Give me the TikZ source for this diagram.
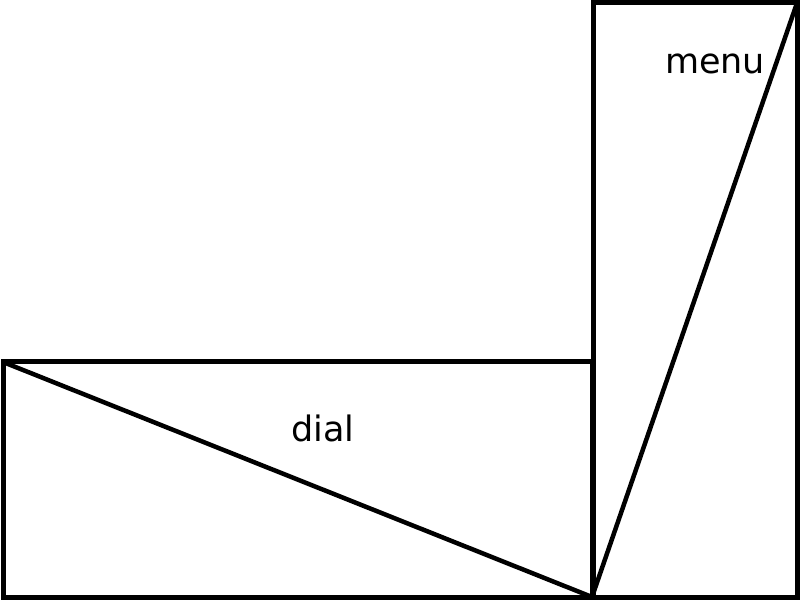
\documentclass[tikz,border=0pt]{standalone}
\usepackage{fontspec}
\setmainfont{DejaVu Sans}
\begin{document}
\begin{tikzpicture}[x=1pt,y=1pt,
  box/.style={draw=black,line width=5pt,rectangle,inner sep=0pt,outer sep=0pt},
  diag/.style={draw=black,line width=4.5pt},
  lbl/.style={inner sep=0pt,anchor=base,font=\fontsize{35}{40}\selectfont}]
\useasboundingbox (0,0) rectangle (800,600);
\node[box,minimum width=589pt,minimum height=235pt] (dialbox) at (297.5,120.5) {};
\node[box,minimum width=204pt,minimum height=594pt] (menubox) at (695,300) {};
\draw[diag] (dialbox.north west) -- (dialbox.south east);
\draw[diag] (dialbox.south east) -- (menubox.north east);
\node[lbl] (dial) at (323,159) {dial};
\node[lbl] (menu) at (715,526) {menu};
\end{tikzpicture}
\end{document}
